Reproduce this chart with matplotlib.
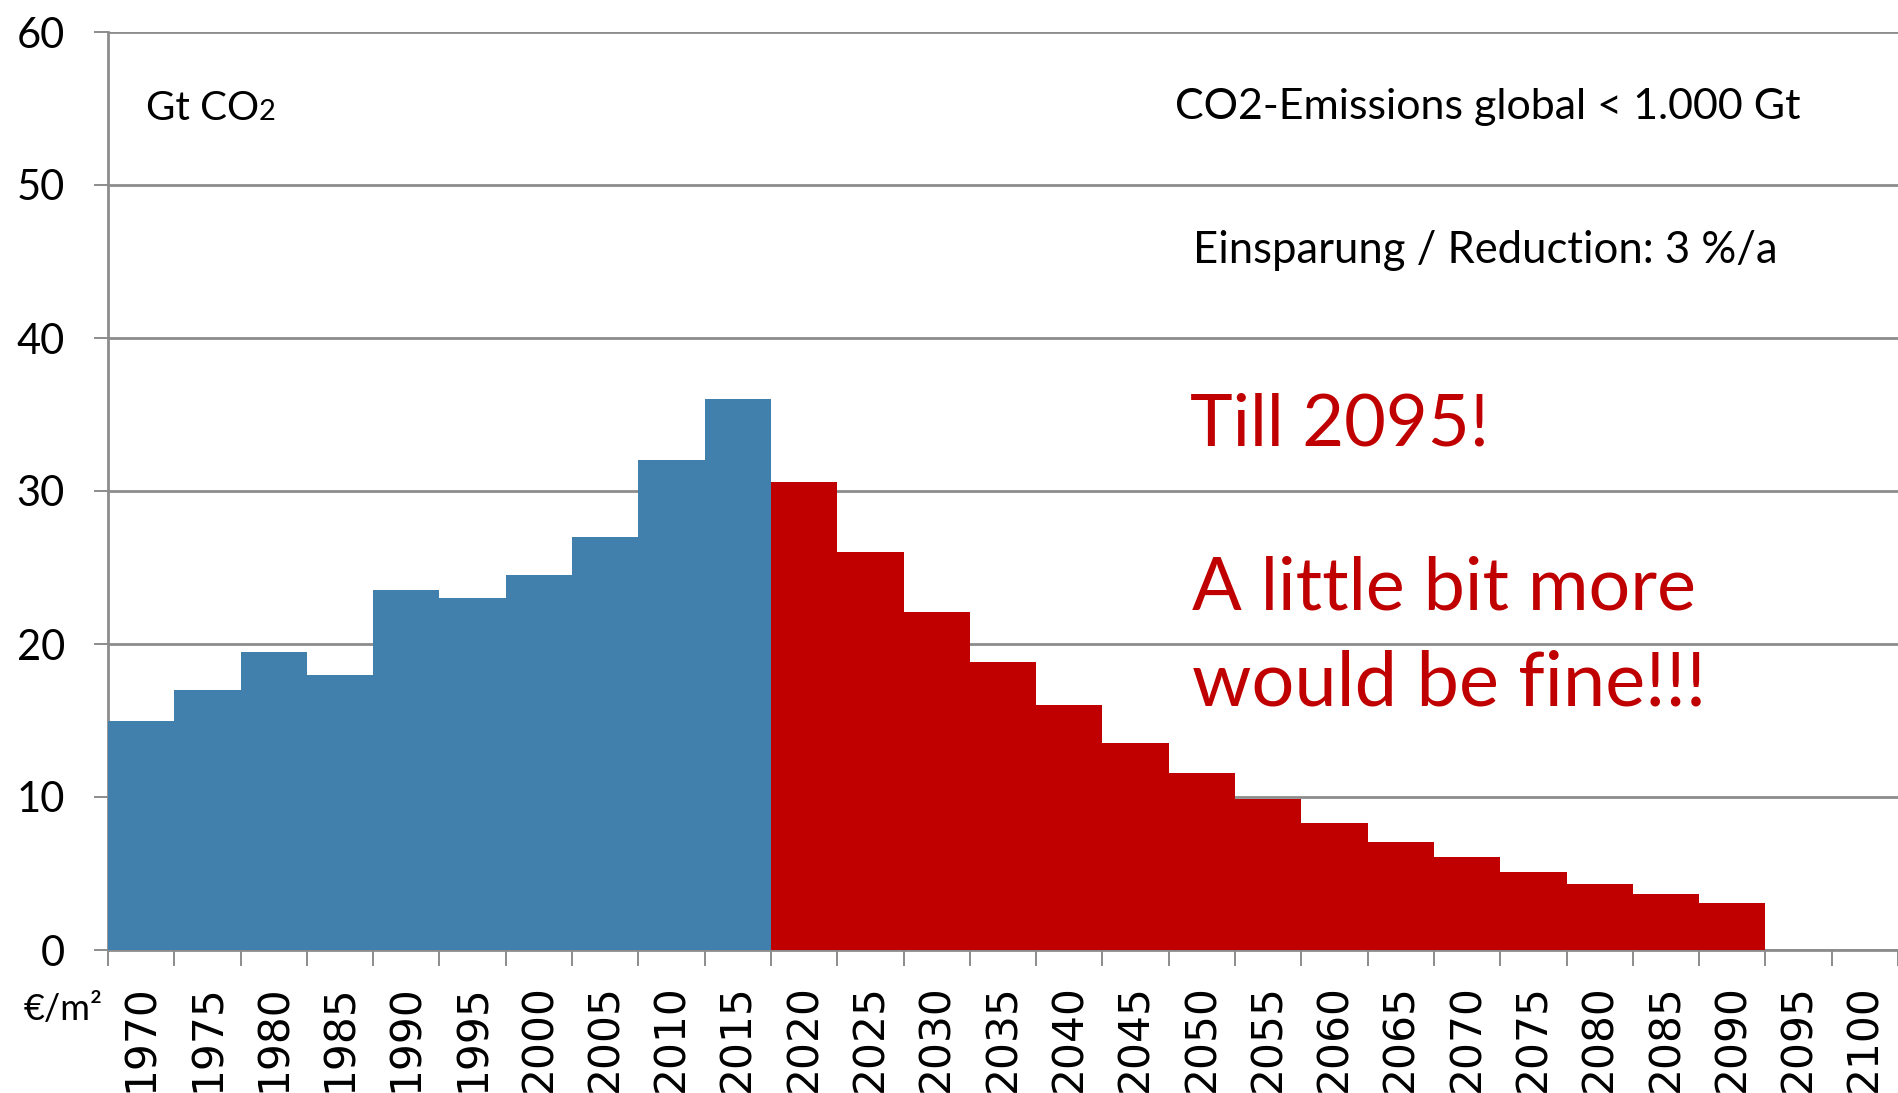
import matplotlib
matplotlib.use("Agg")
import matplotlib.pyplot as plt
import numpy as np

# ---- data ----
years = ["1970", "1975", "1980", "1985", "1990", "1995", "2000", "2005", "2010",
         "2015", "2020", "2025", "2030", "2035", "2040", "2045", "2050", "2055",
         "2060", "2065", "2070", "2075", "2080", "2085", "2090", "2095", "2100"]
historical = [15.0, 17.0, 19.5, 18.0, 23.5, 23.0, 24.5, 27.0, 32.0, 36.0]
projected = [30.6, 26.0, 22.1, 18.8, 16.0, 13.55, 11.55, 9.85, 8.3, 7.05,
             6.05, 5.1, 4.3, 3.65, 3.05]
y_ticks = [0, 10, 20, 30, 40, 50, 60]

BLUE = "#4180AD"
RED = "#C00000"
GRID = "#8C8C8C"
FONT = ["Lato", "DejaVu Sans"]

W, H = 1899, 1093
fig = plt.figure(figsize=(W / 100, H / 100), dpi=100)
ax = fig.add_axes([108 / W, 143 / H, 1790 / W, 918 / H])

x = np.arange(len(years))
n_hist = len(historical)
ax.bar(x[:n_hist], historical, width=1.0, color=BLUE, linewidth=0, zorder=3)
ax.bar(x[n_hist:n_hist + len(projected)], projected, width=1.0, color=RED,
       linewidth=0, zorder=3)

ax.set_xlim(-0.5, len(years) - 0.5)
ax.set_ylim(0, 60)

# grid & spines
ax.set_axisbelow(True)
ax.yaxis.grid(True, color=GRID, linewidth=2, zorder=0)
for s in ["top", "right"]:
    ax.spines[s].set_visible(False)
for s in ["left", "bottom"]:
    ax.spines[s].set_color(GRID)
    ax.spines[s].set_linewidth(2)

# y ticks
ax.set_yticks(y_ticks)
ax.set_yticklabels([str(v) for v in y_ticks], family=FONT, fontsize=30)
ax.tick_params(axis="y", length=10, width=1.4, color=GRID, pad=21)

# x ticks: labels at centres, marks at boundaries
ax.set_xticks(x)
ax.set_xticklabels(years, rotation=90, family="DejaVu Sans", fontsize=30.5)
ax.set_xticks(np.arange(len(years) + 1) - 0.5, minor=True)
ax.tick_params(axis="x", which="major", length=0, pad=24.5)
ax.tick_params(axis="x", which="minor", length=11.5, width=1.4, color=GRID)


def fx(px):
    return px / W


def fy(py):
    return 1 - py / H


# annotations
t1 = fig.text(fx(146), fy(120), "Gt CO", family=FONT, fontsize=29,
              va="baseline", ha="left")
ax.annotate("2", xy=(1.0, fy(120)), xycoords=(t1, "figure fraction"),
            family=FONT, fontsize=21, va="baseline", ha="left")

fig.text(fx(1175), fy(119), "CO2-Emissions global < 1.000 Gt", family=FONT,
         fontsize=31, va="baseline", ha="left")
fig.text(fx(1193), fy(263), "Einsparung / Reduction: 3 %/a", family=FONT,
         fontsize=31.4, va="baseline", ha="left")
fig.text(fx(1190), fy(445), "Till 2095!", family=FONT, fontsize=52,
         color=RED, va="baseline", ha="left")
fig.text(fx(1192), fy(610), "A little bit more", family=FONT, fontsize=53,
         color=RED, va="baseline", ha="left")
fig.text(fx(1192), fy(706), "would be fine!!!", family=FONT, fontsize=54.5,
         color=RED, va="baseline", ha="left")
fig.text(fx(24), fy(1010), "€/m²", family=FONT, fontsize=26,
         va="center", ha="left")

fig.savefig("out.png", dpi=100, facecolor="white")
